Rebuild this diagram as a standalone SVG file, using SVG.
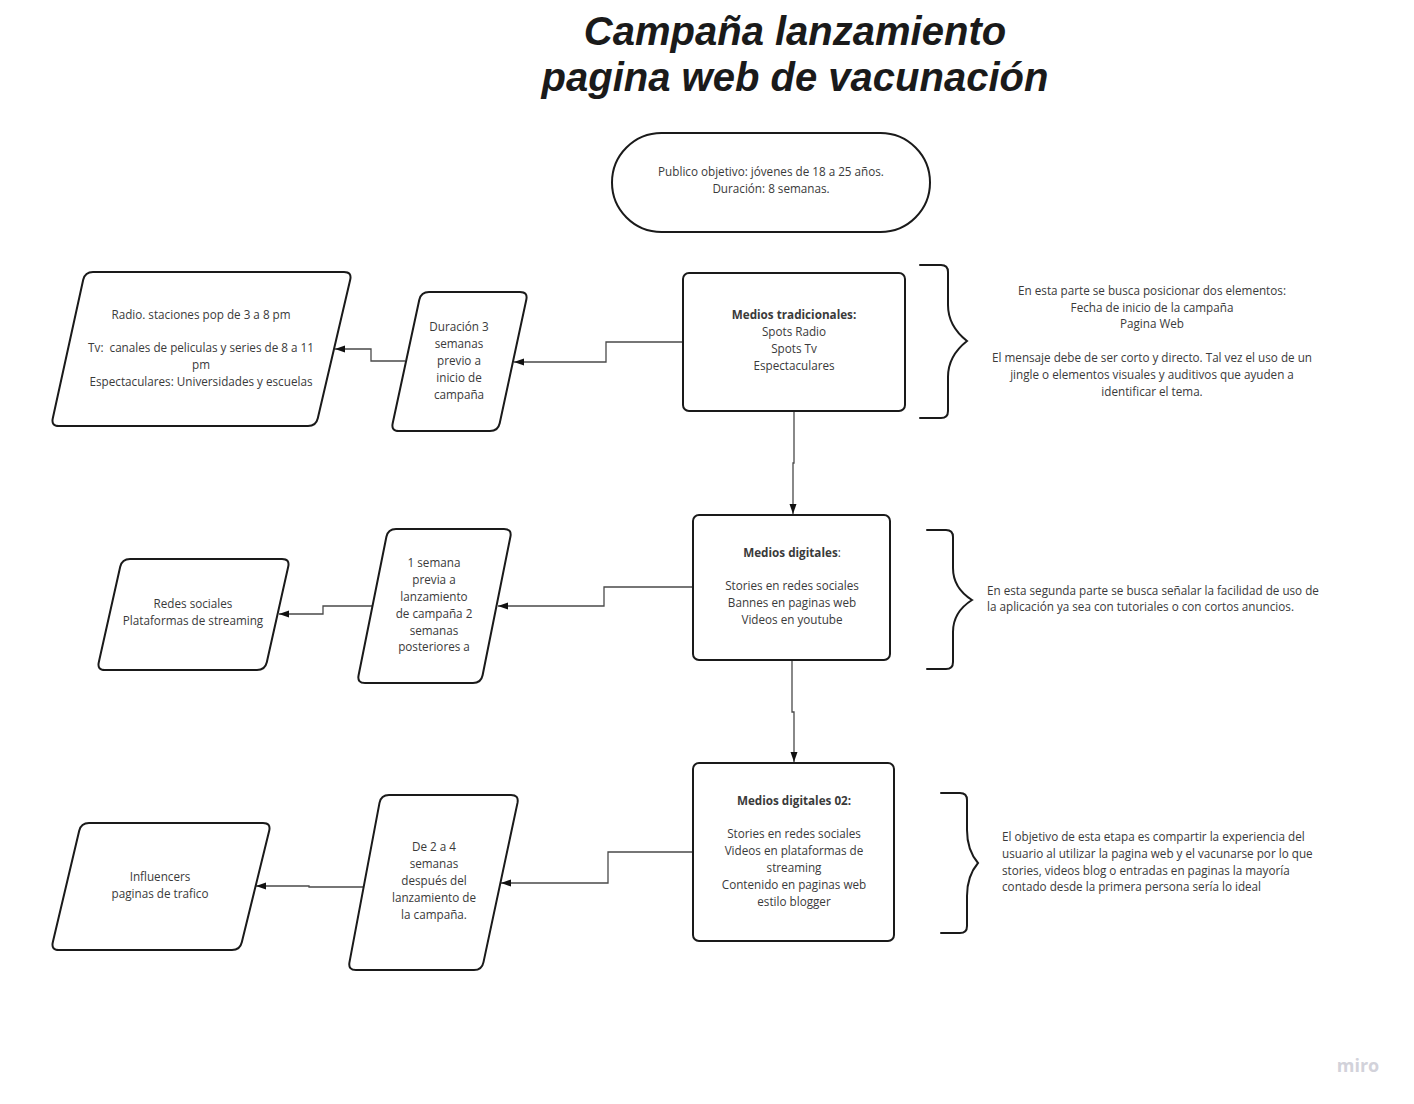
<svg xmlns="http://www.w3.org/2000/svg" width="1414" height="1104" viewBox="0 0 1414 1104">
<style>
.shape{fill:#ffffff;stroke:#1a1a1a;stroke-width:2;stroke-linejoin:round}
.brace{fill:none;stroke:#1a1a1a;stroke-width:2;stroke-linecap:round}
.conn{fill:none;stroke:#4a4a4a;stroke-width:1.3}
.t{font-family:"Open Sans","Noto Sans","DejaVu Sans",sans-serif;font-size:11.7px;fill:#3a3a3a}
.c{text-anchor:middle}
.b{font-weight:bold}
.title{font-family:"Liberation Sans",Arial,sans-serif;font-size:40px;font-weight:bold;font-style:italic;fill:#1a1a1a;text-anchor:middle}
</style>
<defs>
<marker id="arr" markerUnits="userSpaceOnUse" markerWidth="11" markerHeight="8" refX="10" refY="3.5" orient="auto">
<path d="M0,0 L10,3.5 L0,7 Z" fill="#111"/>
</marker>
</defs>
<rect width="1414" height="1104" fill="#ffffff"/>

<g id="title">
<text class="title" x="795" y="45">Campaña lanzamiento</text>
<text class="title" x="795" y="91">pagina web de vacunación</text>
</g>

<g id="connectors">
<path class="conn" d="M683,342 H606 V362 H514" marker-end="url(#arr)"/>
<path class="conn" d="M405,361 H371 V349 H335" marker-end="url(#arr)"/>
<path class="conn" d="M794,411 V463 H793 V514" marker-end="url(#arr)"/>
<path class="conn" d="M693,587 H604 V606 H498" marker-end="url(#arr)"/>
<path class="conn" d="M372,606 H323 V614 H279" marker-end="url(#arr)"/>
<path class="conn" d="M792,660 V712 H794 V762" marker-end="url(#arr)"/>
<path class="conn" d="M693,852 H608 V883 H501" marker-end="url(#arr)"/>
<path class="conn" d="M364,887 H309 V886 H256" marker-end="url(#arr)"/>
</g>

<g id="publico">
<rect class="shape" x="612" y="133" width="318" height="99" rx="49.5"/>
<text class="t c" x="771" y="176">Publico objetivo: jóvenes de 18 a 25 años.</text>
<text class="t c" x="771" y="193">Duración: 8 semanas.</text>
</g>

<g id="tradicionales">
<rect class="shape" x="683" y="273" width="222" height="138" rx="6"/>
<text class="t c b" x="794" y="319">Medios tradicionales:</text>
<text class="t c" x="794" y="336">Spots Radio</text>
<text class="t c" x="794" y="353">Spots Tv</text>
<text class="t c" x="794" y="370">Espectaculares</text>
</g>

<g id="brace1">
<path class="brace" d="M920,265 H941 Q948,265 948,272 V305 Q948,326 967,341 Q948,356 948,377 V411 Q948,418 941,418 H920"/>
</g>
<g id="nota1">
<text class="t c" x="1152" y="295">En esta parte se busca posicionar dos elementos:</text>
<text class="t c" x="1152" y="312">Fecha de inicio de la campaña</text>
<text class="t c" x="1152" y="328">Pagina Web</text>
<text class="t c" x="1152" y="362">El mensaje debe de ser corto y directo. Tal vez el uso de un</text>
<text class="t c" x="1152" y="379">jingle o elementos visuales y auditivos que ayuden a</text>
<text class="t c" x="1152" y="396">identificar el tema.</text>
</g>

<g id="duracion1">
<path class="shape" d="M429,292 H520 Q528,292 526.3,299.8 L499.7,423.2 Q498,431 490,431 H399 Q391,431 392.7,423.2 L419.3,299.8 Q421,292 429,292 Z"/>
<text class="t c" x="459" y="331">Duración 3</text>
<text class="t c" x="459" y="348">semanas</text>
<text class="t c" x="459" y="365">previo a</text>
<text class="t c" x="459" y="382">inicio de</text>
<text class="t c" x="459" y="399">campaña</text>
</g>

<g id="canales1">
<path class="shape" d="M93,272 H344 Q352,272 350.2,279.8 L317.8,418.2 Q316,426 308,426 H59 Q51,426 52.8,418.2 L83.2,279.8 Q85,272 93,272 Z"/>
<text class="t c" x="201" y="319">Radio. staciones pop de 3 a 8 pm</text>
<text class="t c" x="201" y="352" xml:space="preserve">Tv:  canales de peliculas y series de 8 a 11</text>
<text class="t c" x="201" y="369">pm</text>
<text class="t c" x="201" y="386">Espectaculares: Universidades y escuelas</text>
</g>

<g id="digitales">
<rect class="shape" x="693" y="515" width="197" height="145" rx="6"/>
<text class="t c" x="792" y="557"><tspan class="b">Medios digitales</tspan>:</text>
<text class="t c" x="792" y="590">Stories en redes sociales</text>
<text class="t c" x="792" y="607">Bannes en paginas web</text>
<text class="t c" x="792" y="624">Videos en youtube</text>
</g>

<g id="brace2">
<path class="brace" d="M927,530 H946 Q953,530 953,537 V568 Q953,588 972,600 Q953,612 953,632 V662 Q953,669 946,669 H927"/>
</g>
<g id="nota2">
<text class="t" x="987" y="595">En esta segunda parte se busca señalar la facilidad de uso de</text>
<text class="t" x="987" y="611">la aplicación ya sea con tutoriales o con cortos anuncios.</text>
</g>

<g id="duracion2">
<path class="shape" d="M396,529 H504 Q512,529 510.4,536.8 L482.6,675.2 Q481,683 473,683 H365 Q357,683 358.6,675.2 L386.4,536.8 Q388,529 396,529 Z"/>
<text class="t c" x="434" y="567">1 semana</text>
<text class="t c" x="434" y="584">previa a</text>
<text class="t c" x="434" y="601">lanzamiento</text>
<text class="t c" x="434" y="618">de campaña 2</text>
<text class="t c" x="434" y="635">semanas</text>
<text class="t c" x="434" y="651">posteriores a</text>
</g>

<g id="canales2">
<path class="shape" d="M130,559 H282 Q290,559 288.2,566.8 L266.8,662.2 Q265,670 257,670 H105 Q97,670 98.8,662.2 L120.2,566.8 Q122,559 130,559 Z"/>
<text class="t c" x="193" y="608">Redes sociales</text>
<text class="t c" x="193" y="625">Plataformas de streaming</text>
</g>

<g id="digitales02">
<rect class="shape" x="693" y="763" width="201" height="178" rx="6"/>
<text class="t c b" x="794" y="805">Medios digitales 02:</text>
<text class="t c" x="794" y="838">Stories en redes sociales</text>
<text class="t c" x="794" y="855">Videos en plataformas de</text>
<text class="t c" x="794" y="872">streaming</text>
<text class="t c" x="794" y="889">Contenido en paginas web</text>
<text class="t c" x="794" y="906">estilo blogger</text>
</g>

<g id="brace3">
<path class="brace" d="M941,793 H960 Q967,793 967,800 V830 Q967,850 978,863 Q967,876 967,896 V926 Q967,933 960,933 H941"/>
</g>
<g id="nota3">
<text class="t" x="1002" y="841">El objetivo de esta etapa es compartir la experiencia del</text>
<text class="t" x="1002" y="858">usuario al utilizar la pagina web y el vacunarse por lo que</text>
<text class="t" x="1002" y="875">stories, videos blog o entradas en paginas la mayoría</text>
<text class="t" x="1002" y="891">contado desde la primera persona sería lo ideal</text>
</g>

<g id="duracion3">
<path class="shape" d="M389,795 H511 Q519,795 517.5,802.9 L483.5,962.1 Q482,970 474,970 H356 Q348,970 349.5,962.1 L379.5,802.9 Q381,795 389,795 Z"/>
<text class="t c" x="434" y="851">De 2 a 4</text>
<text class="t c" x="434" y="868">semanas</text>
<text class="t c" x="434" y="885">después del</text>
<text class="t c" x="434" y="902">lanzamiento de</text>
<text class="t c" x="434" y="919">la campaña.</text>
</g>

<g id="canales3">
<path class="shape" d="M89,823 H263 Q271,823 269.2,830.8 L241.8,942.2 Q240,950 232,950 H59 Q51,950 52.8,942.2 L79.2,830.8 Q81,823 89,823 Z"/>
<text class="t c" x="160" y="881">Influencers</text>
<text class="t c" x="160" y="898">paginas de trafico</text>
</g>

<g id="watermark">
<text x="1358" y="1072" font-family="'Open Sans','Noto Sans',sans-serif" font-size="18" font-weight="bold" fill="#d2d2da" text-anchor="middle">miro</text>
</g>
</svg>
